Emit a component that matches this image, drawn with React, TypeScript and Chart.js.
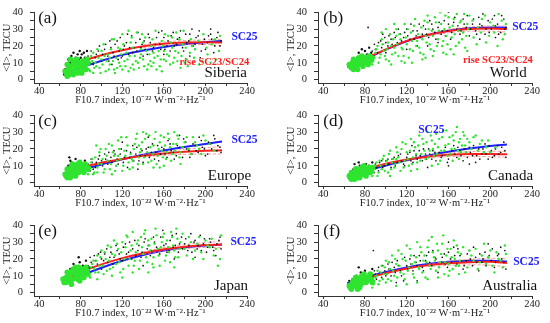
import React, { useEffect, useRef } from "react";
import { Chart, registerables } from "chart.js";
Chart.register(...registerables);

// ---------- shared axis values ----------
const xTickValues = [40, 60, 80, 100, 120, 140, 160, 180, 200, 220, 240];
const yTickValues = [0, 5, 10, 15, 20, 25, 30, 35, 40];
const fitX = [63, 80, 100, 120, 140, 160, 180, 200, 216];
const bandX = [140, 160, 180, 200, 216];
const xTitle = "F10.7 index, 10\u207B\u00B2\u00B2 W\u00B7m\u207B\u00B2\u00B7Hz\u207B\u00B9";
const yTitle = "<I>, TECU";

// ---------- (a) Siberia ----------
const aRed = [5.6, 10.5, 14.5, 17.5, 19.8, 21.3, 22.0, 22.2, 22.0];
const aBlue = [3.5, 7.2, 11.2, 14.7, 17.3, 19.4, 21.0, 22.2, 23.0];
const aRedHi = [20.6, 22.3, 23.2, 23.6, 23.8];
const aRedLo = [19.0, 20.3, 20.8, 20.8, 20.2];
const aGreenCore = [66,4, 68,6, 70,8, 72,5, 74,9, 76,7, 78,10, 80,8, 69,3, 73,11, 82,11, 84,9, 67,9, 77,4, 86,12, 65,5, 67,2, 71,6, 73,3, 75,10, 79,5, 81,4, 83,7, 85,6, 87,10, 70,12, 76,12];
const aBlackCore = [66,9, 68,12, 71,14, 74,11, 77,15, 80,13, 83,16, 70,10, 64,3, 79,17, 65,6, 69,11, 72,9, 75,13, 78,12, 81,15, 84,13, 86,17, 73,16];
const aGreen = [88,6, 90,14, 92,4, 94,10, 96,18, 98,7, 100,12, 102,21, 104,5, 106,15, 108,9, 110,24, 112,6, 114,13, 116,19, 118,8, 120,27, 122,11, 124,16, 126,5, 128,22, 130,9, 132,14, 134,28, 136,7, 138,18, 140,12, 142,25, 144,6, 146,15, 148,20, 150,10, 152,29, 154,14, 156,8, 158,23, 160,17, 162,11, 164,26, 166,9, 168,19, 170,13, 172,28, 174,16, 176,7, 178,21, 182,12, 186,24, 190,18, 194,9, 198,27, 202,15, 206,21, 210,12, 214,26, 95,8, 105,11, 115,7, 125,12, 135,10, 145,9, 155,17, 165,14, 185,16, 100,17, 120,6, 130,19, 140,22, 150,16, 160,12, 180,10,
  87,9, 89,5, 91,11, 93,7, 97,13, 99,4, 101,9, 103,14, 107,6, 109,18, 111,11, 113,4, 117,10, 119,15, 121,21, 123,8, 127,14, 129,25, 131,6, 133,11, 137,13, 139,27, 141,8, 143,17, 147,11, 149,24, 151,13, 153,6, 157,12, 159,20, 161,27, 163,15, 167,22, 169,10, 171,17, 173,11, 175,24, 177,14, 179,29, 181,19, 183,8, 187,20, 189,13, 193,23, 197,11, 201,19, 205,10, 209,24, 213,17, 92,16, 108,13, 118,18, 128,7, 138,15, 148,8, 158,5, 168,25, 188,10, 112,24, 126,29];
const aBlack = [88,12, 90,17, 92,9, 95,15, 98,20, 100,11, 103,18, 106,14, 108,23, 111,16, 113,21, 116,12, 118,25, 121,18, 124,22, 126,15, 129,26, 131,19, 134,17, 137,24, 139,21, 142,18, 145,27, 147,22, 150,19, 153,25, 156,21, 158,29, 161,18, 164,23, 167,26, 170,20, 173,24, 176,29, 179,17, 182,22, 185,27, 188,20, 191,25, 194,29, 197,21, 200,18, 203,26, 206,24, 209,20, 212,28, 215,23, 185,14, 160,15, 140,14, 120,14, 110,9, 195,13, 205,30,
  87,14, 89,10, 94,13, 97,17, 101,15, 104,21, 107,11, 109,19, 112,14, 115,23, 117,17, 119,13, 122,20, 125,27, 127,19, 130,16, 133,22, 135,28, 138,19, 141,23, 144,15, 146,25, 149,17, 152,21, 155,28, 157,18, 160,25, 163,20, 166,17, 169,28, 172,21, 175,25, 178,19, 181,27, 184,23, 187,30, 190,21, 193,26, 196,17, 199,24, 202,22, 205,27, 208,16, 211,25, 214,20];

// ---------- (b) World ----------
const bRed = [8.5, 12.5, 18.0, 23.0, 26.5, 28.8, 30.0, 30.3, 30.0];
const bBlue = [7.5, 12.0, 17.8, 22.8, 26.5, 29.0, 30.5, 31.0, 30.8];
const bRedHi = [27.3, 29.8, 31.2, 31.8, 31.8];
const bRedLo = [25.7, 27.8, 28.8, 28.8, 28.2];
const bGreenCore = [66,8, 68,10, 70,7, 72,11, 74,9, 76,12, 78,8, 80,13, 69,12, 73,6, 82,10, 84,14, 86,12, 71,9, 77,14, 65,9, 67,7, 70,10, 72,8, 75,11, 79,10, 81,12, 83,9, 85,11, 87,13, 74,13, 69,6];
const bBlackCore = [74,16, 77,18, 80,17, 82,15, 84,19, 79,13, 76,14, 86,16];
const bGreen = [88,11, 90,16, 92,20, 94,13, 96,24, 98,17, 100,12, 102,22, 104,27, 106,15, 108,19, 110,30, 112,14, 114,24, 116,18, 118,33, 120,21, 122,13, 124,28, 126,17, 128,36, 130,23, 132,19, 134,31, 136,15, 138,26, 140,38, 142,21, 144,29, 146,17, 148,34, 150,24, 152,40, 154,20, 156,30, 158,26, 160,37, 162,18, 164,32, 166,27, 168,39, 170,22, 172,35, 174,28, 176,19, 178,33, 180,38, 184,25, 188,31, 192,36, 196,22, 200,34, 204,28, 208,39, 212,24, 215,33, 105,9, 115,11, 125,10, 135,12, 145,14, 155,16, 165,15, 100,30, 110,26, 140,34,
  87,9, 89,13, 91,18, 93,10, 95,15, 97,21, 99,14, 101,18, 103,11, 105,20, 107,24, 109,16, 111,21, 113,27, 115,19, 117,14, 119,25, 121,30, 123,18, 125,23, 127,32, 129,20, 131,27, 133,16, 135,24, 137,35, 139,22, 141,30, 143,18, 145,26, 147,37, 149,20, 151,29, 153,33, 155,23, 157,38, 159,21, 161,31, 163,25, 165,36, 167,20, 169,29, 171,34, 173,24, 175,39, 177,26, 179,30, 183,35, 187,21, 191,28, 195,38, 199,26, 203,32, 207,20, 211,35, 214,27, 118,10, 138,13, 158,15, 178,17, 96,28, 108,33];
const bBlack = [88,14, 90,18, 93,22, 96,19, 99,25, 102,20, 105,24, 108,28, 111,22, 114,27, 117,25, 120,30, 123,24, 126,29, 129,26, 132,33, 135,27, 138,30, 141,25, 144,33, 147,28, 150,31, 153,27, 156,35, 159,29, 162,24, 165,34, 168,30, 171,27, 174,36, 177,31, 180,26, 183,33, 186,29, 189,37, 192,32, 195,27, 198,35, 201,30, 204,38, 207,33, 210,28, 213,36, 215,31, 130,20, 150,22, 170,22, 190,24, 205,25, 120,18, 140,20, 100,16, 160,40, 83,31,
  87,17, 89,21, 92,16, 95,23, 97,27, 100,22, 103,26, 106,21, 109,25, 112,30, 115,23, 118,28, 121,26, 124,33, 127,24, 130,29, 133,25, 136,32, 139,27, 142,35, 145,30, 148,24, 151,34, 154,29, 157,26, 160,33, 163,28, 166,37, 169,32, 172,29, 175,33, 178,38, 181,30, 184,36, 187,27, 190,33, 193,39, 196,30, 199,28, 202,36, 205,32, 208,27, 211,38, 214,30];

// ---------- (c) Europe ----------
const cRed = [5.5, 8.8, 11.8, 14.0, 15.9, 17.3, 18.3, 18.9, 19.2];
const cBlue = [4.2, 7.4, 10.8, 13.8, 16.6, 19.1, 21.2, 23.0, 24.4];
const cRedHi = [16.7, 18.4, 19.8, 20.8, 21.4];
const cRedLo = [15.1, 16.2, 16.8, 17.0, 17.0];
const cGreenCore = [66,4, 68,6, 70,3, 72,8, 74,5, 76,9, 78,6, 80,10, 82,7, 84,11, 67,8, 71,10, 75,4, 79,12, 86,9, 65,5, 67,3, 70,7, 73,5, 76,6, 78,9, 81,8, 83,6, 85,10, 87,8, 72,11, 77,11];
const cBlackCore = [68,10, 70,13, 72,11, 75,14, 78,12, 81,11, 84,13, 73,9, 69,15, 71,12];
const cGreen = [88,7, 90,12, 92,5, 94,15, 96,9, 98,18, 100,11, 102,6, 104,20, 106,13, 108,8, 110,22, 112,16, 114,10, 116,25, 118,14, 120,7, 122,19, 124,27, 126,12, 128,17, 130,9, 132,23, 134,29, 136,15, 138,20, 140,11, 142,26, 144,18, 146,28, 148,13, 150,22, 152,30, 154,16, 156,24, 158,19, 160,27, 162,14, 164,29, 166,21, 168,17, 170,30, 172,23, 174,26, 176,18, 180,24, 184,20, 188,27, 192,22, 196,17, 200,25, 110,5, 130,13, 150,9, 95,22, 140,30, 160,10,
  87,5, 89,9, 91,14, 93,6, 97,11, 99,20, 101,14, 103,8, 105,16, 107,23, 109,11, 111,18, 113,7, 115,13, 117,20, 119,27, 121,10, 123,16, 125,22, 127,8, 129,14, 131,20, 133,26, 135,11, 137,18, 139,24, 141,15, 143,29, 145,12, 147,21, 149,17, 151,26, 153,11, 155,20, 157,28, 159,15, 161,22, 163,18, 165,26, 167,13, 169,23, 171,19, 173,28, 175,15, 178,21, 182,27, 186,17, 190,24, 194,20, 198,28, 204,23, 208,19, 96,6, 116,16, 136,22, 156,9, 176,11];
const cBlack = [88,9, 90,14, 92,8, 95,12, 98,16, 101,10, 104,14, 107,18, 110,12, 113,17, 116,11, 119,20, 122,15, 125,9, 128,18, 131,13, 134,21, 137,16, 140,12, 143,20, 146,15, 149,23, 152,18, 155,13, 158,21, 161,17, 164,25, 167,19, 170,14, 173,22, 176,18, 179,26, 182,20, 185,15, 188,23, 191,19, 194,27, 197,21, 200,16, 203,24, 206,20, 209,26, 212,22, 215,18, 175,28, 145,27, 120,24, 135,8,
  87,11, 89,7, 91,12, 94,9, 97,14, 100,13, 103,17, 106,11, 109,15, 112,19, 115,14, 118,17, 121,12, 124,19, 127,15, 130,22, 133,17, 136,13, 139,19, 142,16, 145,21, 148,18, 151,14, 154,22, 157,17, 160,20, 163,15, 166,23, 169,18, 172,16, 175,21, 178,15, 181,24, 184,19, 187,17, 190,22, 193,18, 196,25, 199,20, 202,17, 205,23, 208,28, 211,19, 214,21];

// ---------- (d) Canada ----------
const dRed = [4.3, 7.8, 11.2, 13.7, 15.4, 16.5, 17.0, 17.0, 16.8];
const dBlue = [3.2, 6.8, 10.2, 13.3, 16.0, 18.3, 20.2, 21.7, 22.6];
const dRedHi = [16.1, 17.5, 18.3, 18.6, 18.6];
const dRedLo = [14.7, 15.5, 15.7, 15.4, 15.0];
const dGreenCore = [66,3, 68,5, 70,2, 72,6, 74,4, 76,7, 78,5, 80,8, 82,6, 84,9, 67,6, 71,8, 75,3, 79,10, 86,7, 65,4, 67,2, 70,5, 73,3, 76,5, 78,7, 81,4, 83,8, 85,6, 87,9, 72,8, 77,9];
const dBlackCore = [66,5, 69,8, 72,9, 75,10, 78,8, 81,11, 84,10, 87,12, 70,11, 74,12];
const dGreen = [88,6, 90,10, 92,4, 94,13, 96,8, 98,16, 100,11, 102,6, 104,19, 106,12, 108,9, 110,21, 112,15, 114,7, 116,24, 118,13, 120,18, 122,10, 124,26, 126,15, 128,21, 130,12, 132,28, 134,17, 136,23, 138,14, 140,30, 142,19, 144,25, 146,16, 148,29, 150,21, 152,13, 154,27, 156,19, 158,31, 160,23, 162,17, 164,28, 166,20, 168,33, 170,24, 172,18, 174,30, 176,22, 178,26, 182,20, 186,28, 190,23, 194,18, 198,25, 110,14, 130,8, 150,11, 170,14, 205,21,
  87,4, 89,8, 91,12, 93,6, 95,10, 97,14, 99,7, 101,13, 103,17, 105,8, 107,14, 109,11, 111,18, 113,12, 115,20, 117,9, 119,23, 121,14, 123,19, 125,11, 127,24, 129,17, 131,22, 133,13, 135,26, 137,19, 139,24, 141,15, 143,28, 145,20, 147,23, 149,17, 151,26, 153,19, 155,31, 157,22, 159,16, 161,27, 163,20, 165,25, 167,30, 169,19, 171,26, 173,22, 175,28, 177,18, 180,24, 184,27, 188,19, 192,25, 196,21, 200,18, 104,4, 124,7, 144,10, 164,13];
const dBlack = [88,8, 90,11, 93,7, 96,13, 99,10, 102,14, 105,9, 108,15, 111,12, 114,17, 117,11, 120,15, 123,18, 126,12, 129,16, 132,19, 135,13, 138,17, 141,20, 144,14, 147,18, 150,21, 153,15, 156,19, 159,12, 162,17, 165,22, 168,15, 171,19, 174,13, 177,18, 180,21, 183,16, 186,12, 189,20, 192,17, 195,23, 198,14, 201,19, 204,16, 207,22, 210,18, 213,24, 215,15, 140,9, 160,10, 125,22, 180,11,
  87,10, 89,6, 91,9, 94,12, 97,9, 100,13, 103,11, 106,14, 109,10, 112,16, 115,13, 118,10, 121,17, 124,13, 127,19, 130,14, 133,16, 136,20, 139,14, 142,17, 145,19, 148,13, 151,18, 154,16, 157,21, 160,14, 163,19, 166,17, 169,21, 172,16, 175,20, 178,15, 181,18, 184,22, 187,16, 190,14, 193,20, 196,17, 199,22, 202,15, 205,20, 208,17, 211,21, 214,19];

// ---------- (e) Japan ----------
const eRed = [7.1, 12.2, 16.8, 20.5, 23.4, 25.7, 27.3, 28.3, 28.5];
const eBlue = [5.6, 10.0, 14.8, 18.9, 22.3, 25.0, 26.9, 28.0, 28.5];
const eRedHi = [24.2, 26.7, 28.5, 29.8, 30.3];
const eRedLo = [22.6, 24.7, 26.1, 26.8, 26.7];
const eGreenCore = [64,6, 66,9, 68,7, 70,11, 72,8, 74,12, 76,9, 78,13, 80,10, 82,14, 84,11, 86,13, 67,12, 71,5, 75,15, 79,7, 65,8, 63,8, 66,6, 69,10, 72,13, 75,11, 77,8, 80,12, 83,9, 85,15, 87,11, 73,14, 78,15];
const eBlackCore = [70,14, 73,17, 76,15, 79,18, 82,16, 85,19, 72,11, 88,15, 78,21];
const eGreen = [88,10, 90,15, 92,19, 94,12, 96,22, 98,16, 100,25, 102,11, 104,20, 106,28, 108,14, 110,23, 112,31, 114,17, 116,26, 118,12, 120,30, 122,20, 124,34, 126,16, 128,25, 130,36, 132,19, 134,29, 136,14, 138,33, 140,23, 142,37, 144,18, 146,28, 148,32, 150,21, 152,38, 154,26, 156,16, 158,30, 160,35, 162,22, 164,27, 166,18, 168,33, 170,25, 172,38, 174,21, 176,30, 180,26, 184,33, 188,20, 192,29, 196,24, 200,31, 204,27, 208,22, 212,16, 215,34, 110,10, 130,12, 150,15,
  87,13, 89,9, 91,17, 93,14, 95,19, 97,12, 99,21, 101,16, 103,24, 105,13, 107,19, 109,27, 111,15, 113,22, 115,29, 117,18, 119,24, 121,14, 123,27, 125,33, 127,20, 129,28, 131,16, 133,24, 135,31, 137,19, 139,27, 141,35, 143,21, 145,31, 147,25, 149,17, 151,29, 153,34, 155,22, 157,27, 159,33, 161,19, 163,31, 165,24, 167,36, 169,28, 171,21, 173,32, 175,26, 178,35, 182,22, 186,30, 190,25, 194,33, 198,20, 202,28, 206,32, 210,26, 214,20, 96,8, 120,9, 145,12, 170,15];
const eBlack = [88,13, 90,18, 93,22, 96,17, 99,24, 102,19, 105,26, 108,21, 111,17, 114,28, 117,23, 120,19, 123,29, 126,24, 129,20, 132,31, 135,25, 138,21, 141,30, 144,26, 147,22, 150,33, 153,27, 156,23, 159,37, 162,29, 165,25, 168,34, 171,28, 174,24, 177,33, 180,29, 183,25, 186,35, 189,30, 192,26, 195,34, 198,29, 201,24, 204,32, 207,27, 210,22, 213,31, 100,14, 140,16, 170,20, 190,21, 215,26,
  87,16, 89,21, 91,15, 94,19, 97,23, 100,20, 103,23, 106,18, 109,24, 112,21, 115,25, 118,20, 121,27, 124,23, 127,30, 130,26, 133,22, 136,28, 139,24, 142,32, 145,28, 148,25, 151,30, 154,26, 157,33, 160,28, 163,24, 166,31, 169,27, 172,35, 175,29, 178,26, 181,32, 184,28, 187,24, 190,31, 193,28, 196,25, 199,32, 202,27, 205,30, 208,25, 211,29, 214,33];

// ---------- (f) Australia ----------
const fRed = [4.3, 8.1, 11.5, 14.3, 16.2, 17.4, 18.1, 18.3, 17.6];
const fBlue = [5.6, 9.0, 12.3, 15.0, 17.0, 18.3, 18.9, 19.0, 18.5];
const fRedHi = [17.0, 18.6, 19.7, 20.3, 20.0];
const fRedLo = [15.4, 16.2, 16.5, 16.3, 15.2];
const fGreenCore = [66,3, 68,6, 70,4, 72,7, 74,5, 76,8, 78,6, 80,9, 82,7, 84,10, 67,2, 71,9, 75,3, 79,11, 86,8, 69,7, 65,4, 67,5, 70,7, 73,2, 76,5, 78,9, 81,6, 83,8, 85,11, 87,6, 72,9, 77,10];
const fBlackCore = [66,6, 68,8, 72,10, 76,12, 80,13, 84,11, 87,14, 74,15, 65,7];
const fGreen = [88,5, 90,9, 92,13, 94,7, 96,16, 98,11, 100,19, 102,8, 104,14, 106,22, 108,10, 110,17, 112,25, 114,12, 116,20, 118,8, 120,28, 122,15, 124,22, 126,11, 128,18, 130,30, 132,14, 134,24, 136,19, 138,9, 140,27, 142,16, 144,33, 146,21, 148,13, 150,25, 152,18, 154,29, 156,11, 158,22, 160,17, 162,26, 164,14, 166,20, 168,28, 170,16, 172,23, 176,12, 180,25, 184,19, 188,14, 192,22, 196,17, 200,25, 204,12, 208,20, 212,15, 215,23, 100,6, 120,5, 140,8, 160,10,
  87,3, 89,7, 91,10, 93,5, 95,12, 97,8, 99,15, 101,11, 103,18, 105,7, 107,13, 109,20, 111,9, 113,16, 115,23, 117,11, 119,19, 121,13, 123,26, 125,17, 127,9, 129,21, 131,15, 133,27, 135,12, 137,22, 139,18, 141,31, 143,14, 145,24, 147,19, 149,29, 151,15, 153,23, 155,34, 157,18, 159,26, 161,13, 163,21, 165,31, 167,16, 169,24, 171,19, 174,27, 178,15, 182,22, 186,26, 190,18, 194,29, 198,21, 202,16, 206,24, 210,19, 214,28, 110,4, 130,6, 150,9, 170,11];
const fBlack = [88,7, 90,11, 93,15, 96,9, 99,13, 102,17, 105,10, 108,15, 111,19, 114,13, 117,7, 120,16, 123,20, 126,13, 129,18, 132,22, 135,15, 138,19, 141,24, 144,16, 147,21, 150,12, 153,18, 156,23, 159,15, 162,20, 165,27, 168,17, 171,22, 174,14, 177,19, 180,25, 183,16, 186,21, 189,13, 192,18, 195,24, 198,29, 201,19, 204,15, 207,22, 210,27, 213,18, 215,14, 160,30, 130,7, 110,6, 88,25,
  87,10, 89,13, 91,8, 94,12, 97,16, 100,10, 103,14, 106,18, 109,12, 112,16, 115,10, 118,21, 121,14, 124,17, 127,22, 130,16, 133,19, 136,13, 139,22, 142,18, 145,25, 148,20, 151,15, 154,21, 157,17, 160,24, 163,18, 166,22, 169,26, 172,19, 175,16, 178,23, 181,20, 184,27, 187,18, 190,23, 193,20, 196,16, 199,22, 202,26, 205,18, 208,23, 211,20, 214,25];

// ---------- styling ----------
const SERIF = "'Liberation Serif', 'Times New Roman', serif";
const GREEN = "#2fe42f";
const BLACK = "#111111";
const RED = "#ff1f1f";
const BLUE = "#1f1fff";
const AXIS = "#333333";

type Txt = { text: string; x: number; y: number; align: CanvasTextAlign; font: string; color: string };

type PanelSpec = {
  col: number;
  row: number;
  green: number[];
  greenCore: number[];
  black: number[];
  blackCore: number[];
  red: number[];
  blue: number[];
  redHi: number[];
  redLo: number[];
  texts: Txt[];
};

const letterFont = `17px ${SERIF}`;
const regionFont = `15px ${SERIF}`;
const scFont = `bold 11.5px ${SERIF}`;
const riseFont = `bold 10.5px ${SERIF}`;

function mk(letter: string, lx: number, region: string, rx: number, scx: number, scy: number, rise?: [number, number]): Txt[] {
  const t: Txt[] = [
    { text: letter, x: lx, y: 36, align: "left", font: letterFont, color: "#111" },
    { text: region, x: rx, y: 4, align: "right", font: regionFont, color: "#111" },
    { text: "SC25", x: scx, y: scy, align: "left", font: scFont, color: BLUE },
  ];
  if (rise) t.push({ text: "rise SC23/SC24", x: rise[0], y: rise[1], align: "left", font: riseFont, color: RED });
  return t;
}

const panels: PanelSpec[] = [
  { col: 0, row: 0, green: aGreen, greenCore: aGreenCore, black: aBlack, blackCore: aBlackCore, red: aRed, blue: aBlue, redHi: aRedHi, redLo: aRedLo, texts: mk("(a)", 39, "Siberia", 240, 225, 25, [175, 10.5]) },
  { col: 1, row: 0, green: bGreen, greenCore: bGreenCore, black: bBlack, blackCore: bBlackCore, red: bRed, blue: bBlue, redHi: bRedHi, redLo: bRedLo, texts: mk("(b)", 40, "World", 235, 221, 31, [174, 11.5]) },
  { col: 0, row: 1, green: cGreen, greenCore: cGreenCore, black: cBlack, blackCore: cBlackCore, red: cRed, blue: cBlue, redHi: cRedHi, redLo: cRedLo, texts: mk("(c)", 39, "Europe", 244, 225, 25) },
  { col: 1, row: 1, green: dGreen, greenCore: dGreenCore, black: dBlack, blackCore: dBlackCore, red: dRed, blue: dBlue, redHi: dRedHi, redLo: dRedLo, texts: mk("(d)", 40, "Canada", 241, 131, 31) },
  { col: 0, row: 2, green: eGreen, greenCore: eGreenCore, black: eBlack, blackCore: eBlackCore, red: eRed, blue: eBlue, redHi: eRedHi, redLo: eRedLo, texts: mk("(e)", 39, "Japan", 241, 224, 30) },
  { col: 1, row: 2, green: fGreen, greenCore: fGreenCore, black: fBlack, blackCore: fBlackCore, red: fRed, blue: fBlue, redHi: fRedHi, redLo: fRedLo, texts: mk("(f)", 40, "Australia", 245, 222, 18.4) },
];

const CANVAS_W = 275;
const CANVAS_H = 106;
const rowTops = [0, 103, 213];

function pairs(flat: number[]) {
  const out: { x: number; y: number }[] = [];
  for (let i = 0; i + 1 < flat.length; i += 2) out.push({ x: flat[i], y: flat[i + 1] });
  return out;
}
function curve(xs: number[], ys: number[]) {
  return ys.map((y, i) => ({ x: xs[i], y }));
}

function PanelChart({ spec }: { spec: PanelSpec }) {
  const ref = useRef<HTMLCanvasElement | null>(null);
  useEffect(() => {
    const canvas = ref.current;
    if (!canvas) return;
    const padLeft = spec.col === 0 ? 0 : 9;
    const padRight = spec.col === 0 ? 28 : 18;
    const textPlugin = {
      id: "panelTexts",
      afterDatasetsDraw(chart: any) {
        const { ctx, scales } = chart;
        ctx.save();
        ctx.textBaseline = "middle";
        for (const t of spec.texts) {
          ctx.font = t.font;
          ctx.fillStyle = t.color;
          ctx.textAlign = t.align;
          ctx.fillText(t.text, scales.x.getPixelForValue(t.x), scales.y.getPixelForValue(t.y));
        }
        ctx.restore();
      },
    };
    const lineDs = (data: any[], color: string, width: number, dash: number[] = []) => ({
      type: "line" as const,
      data,
      borderColor: color,
      backgroundColor: color,
      borderWidth: width,
      borderDash: dash,
      pointRadius: 0,
      showLine: true,
      fill: false,
      tension: 0.4,
      cubicInterpolationMode: "monotone" as const,
    });
    const chart = new Chart(canvas, {
      type: "scatter",
      data: {
        datasets: [
          { data: pairs(spec.greenCore), backgroundColor: GREEN, borderWidth: 0, pointRadius: 2.8 },
          { data: pairs(spec.green), backgroundColor: GREEN, borderWidth: 0, pointRadius: 1.2 },
          { data: pairs(spec.blackCore), backgroundColor: BLACK, borderWidth: 0, pointRadius: 1.2 },
          { data: pairs(spec.black), backgroundColor: BLACK, borderWidth: 0, pointRadius: 0.85 },
          lineDs(curve(bandX, spec.redHi), "rgba(255,110,110,0.7)", 1, [3, 2]),
          lineDs(curve(bandX, spec.redLo), "rgba(255,110,110,0.7)", 1, [3, 2]),
          lineDs(curve(fitX, spec.red), RED, 2),
          lineDs(curve(fitX, spec.blue), BLUE, 2),
        ] as any,
      },
      options: {
        animation: false,
        responsive: false,
        maintainAspectRatio: false,
        events: [],
        layout: { padding: { left: padLeft, right: padRight, top: 9, bottom: 0 } },
        plugins: { legend: { display: false }, tooltip: { enabled: false } },
        scales: {
          x: {
            type: "linear",
            min: 35,
            max: 240,
            afterFit: (s: any) => {
              s.height = 23;
            },
            afterBuildTicks: (s: any) => {
              s.ticks = xTickValues.map((v) => ({ value: v }));
            },
            ticks: {
              autoSkip: false,
              maxRotation: 0,
              padding: 0,
              color: "#222",
              font: { family: SERIF, size: 10.5, lineHeight: 1 },
              callback: (v: any) => (Number(v) % 40 === 0 ? String(v) : ""),
            },
            grid: { drawOnChartArea: false, drawTicks: true, tickLength: 3, color: AXIS },
            border: { display: true, color: AXIS, width: 1 },
            title: {
              display: true,
              text: xTitle,
              color: "#222",
              font: { family: SERIF, size: 10.5, lineHeight: 1 },
              padding: { top: 0, bottom: 1 },
            },
          },
          y: {
            type: "linear",
            min: -2,
            max: 40,
            afterFit: (s: any) => {
              s.width = 34;
            },
            afterBuildTicks: (s: any) => {
              s.ticks = yTickValues.map((v) => ({ value: v }));
            },
            ticks: {
              autoSkip: false,
              padding: 7,
              color: "#222",
              font: { family: SERIF, size: 10.5, lineHeight: 1 },
              callback: (v: any) => (Number(v) % 10 === 0 ? String(v) : ""),
            },
            grid: { drawOnChartArea: false, drawTicks: true, tickLength: 4, color: AXIS },
            border: { display: true, color: AXIS, width: 1 },
            title: {
              display: true,
              text: yTitle,
              color: "#222",
              font: { family: SERIF, size: 10.5, lineHeight: 1 },
              padding: { top: 1.5, bottom: 0 },
            },
          },
        },
      },
      plugins: [textPlugin],
    } as any);
    return () => chart.destroy();
  }, [spec]);
  return (
    <canvas
      ref={ref}
      width={CANVAS_W}
      height={CANVAS_H}
      style={{
        position: "absolute",
        left: spec.col * CANVAS_W,
        top: rowTops[spec.row],
        width: CANVAS_W,
        height: CANVAS_H,
      }}
    />
  );
}

export default function App() {
  return (
    <div style={{ position: "fixed", left: 0, top: 0, width: 550, height: 323, background: "#ffffff", overflow: "hidden" }}>
      {panels.map((p, i) => (
        <PanelChart key={i} spec={p} />
      ))}
    </div>
  );
}
